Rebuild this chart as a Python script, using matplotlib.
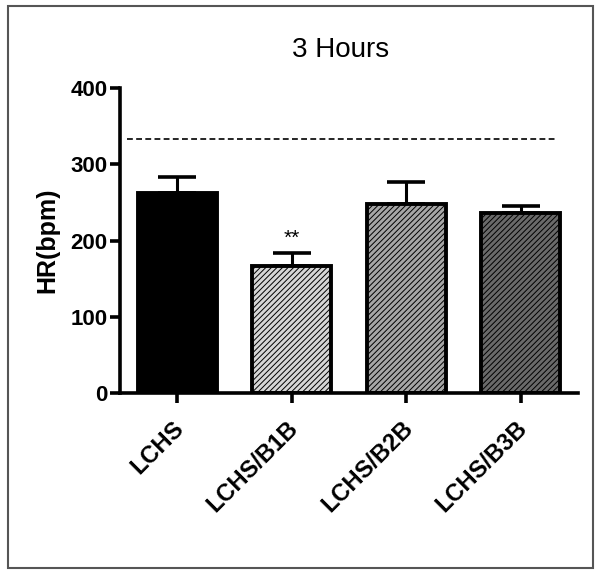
import matplotlib
matplotlib.use("Agg")
import matplotlib.pyplot as plt
from matplotlib.patches import Rectangle
from matplotlib.transforms import ScaledTranslation

plt.rcParams['font.family'] = ['Liberation Sans', 'DejaVu Sans']
plt.rcParams['hatch.linewidth'] = 0.7

categories = ["LCHS", "LCHS/B1B", "LCHS/B2B", "LCHS/B3B"]
values = [262, 167, 248, 236]
errors = [22, 17, 29, 9]
bar_colors = ["#000000", "#d6d6d6", "#a6a6a6", "#6a6a6a"]
hatches = ["", "//////", "//////", "//////"]
reference_value = 334
yticks = [0, 100, 200, 300, 400]
title = "3 Hours"
ylabel = "HR(bpm)"
signif = {1: "**"}

fig = plt.figure(figsize=(6.0, 5.73), dpi=100)
ax = fig.add_axes([0.2, 0.314, 0.763, 0.532])

x = list(range(len(categories)))
for xi, v, c, h in zip(x, values, bar_colors, hatches):
    ax.bar(xi, v, width=0.69, color=c, edgecolor="black", linewidth=2.8,
           hatch=h if h else None, zorder=2)
ax.errorbar(x, values, yerr=[[0] * len(errors), errors], fmt="none",
            ecolor="black", elinewidth=2.2, capsize=14, capthick=2.6, zorder=1)

ax.plot([-0.44, 3.30], [reference_value, reference_value], color="black",
        linestyle=(0, (3.5, 2)), linewidth=1.2, zorder=3)

for i, s in signif.items():
    ax.text(x[i], values[i] + errors[i] + 6, s, ha="center", va="bottom",
            fontsize=15)

ax.set_xlim(-0.5, 3.5)
ax.set_ylim(0, 400)
ax.set_yticks(yticks)
ax.set_yticklabels([str(t) for t in yticks], fontsize=16, fontweight="bold")
ax.set_xticks(x)
ax.set_xticklabels(categories, rotation=45, ha="right", rotation_mode="anchor",
                   fontsize=17, fontweight="bold")
ax.tick_params(axis="both", direction="out", length=7, width=2.6, pad=2)
ax.tick_params(axis="x", pad=10)
shift = ScaledTranslation(-5 / 100, 0, fig.dpi_scale_trans)
for lab in ax.get_xticklabels():
    lab.set_transform(lab.get_transform() + shift)
for s in ["top", "right"]:
    ax.spines[s].set_visible(False)
for s in ["left", "bottom"]:
    ax.spines[s].set_linewidth(2.6)

fig.text(341 / 600, 1 - 57 / 573, title, fontsize=20, ha="center", va="baseline")
ax.set_ylabel(ylabel, fontsize=18, fontweight="bold", labelpad=8)

fig.patches.append(Rectangle((0.014, 0.009), 0.975, 0.98, transform=fig.transFigure,
                             fill=False, edgecolor="#555555", linewidth=1.5))

fig.savefig("out.png", dpi=100)
